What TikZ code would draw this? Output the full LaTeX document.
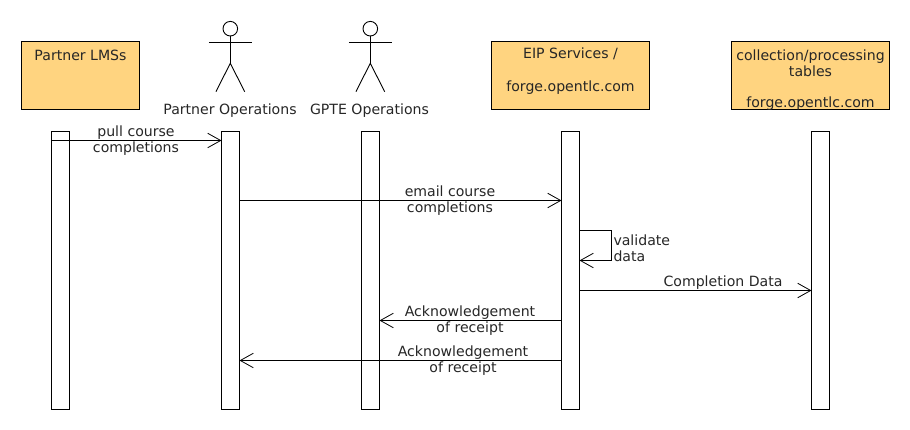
\documentclass[tikz,border=0pt]{standalone}
\usepackage{fontspec}
\setmainfont{DejaVu Sans}
\usetikzlibrary{arrows.meta}
\tikzset{
  x=1pt,y=-1pt,
  every node/.style={font=\fontsize{14.1}{16}\selectfont,inner sep=0pt,outer sep=0pt,text=black!85},
  part/.style={draw=black,line width=1pt,fill=boxfill,anchor=north west,minimum height=68pt,align=center},
  partw/.style={part,minimum width=118pt},
  partwide/.style={part,minimum width=158pt},
  bar/.style={draw=black,line width=1pt,fill=white,anchor=north west,minimum width=18pt,minimum height=278pt},
  msg/.style={draw=black,line width=0.8pt,-{Straight Barb[length=13pt,width=14.5pt,line width=0.8pt]}},
  stick/.style={draw=black,line width=0.9pt},
  lbl/.style={align=center,anchor=center}
}
\definecolor{boxfill}{HTML}{FFD480}
\newcommand{\actor}[2]{%
  \node[circle,draw=black,line width=0.9pt,minimum size=14.6pt] (#2h) at (#1,28.7) {};
  \coordinate (#2n) at (#1,63.3);
  \coordinate (#2a) at (#1-21.4,42.3);
  \coordinate (#2b) at (#1+21.4,42.3);
  \coordinate (#2l) at (#1-14.4,91.7);
  \coordinate (#2r) at (#1+14.4,91.7);
  \draw[stick] (#2h) -- (#2n);
  \draw[stick] (#2a) -- (#2b);
  \draw[stick] (#2l) -- (#2n) -- (#2r);
}
\begin{document}
\begin{tikzpicture}
\useasboundingbox (0,0) rectangle (910,430);
\node[partw] (lms) at (21.5,41.5) {};
\node[anchor=center] (lmst) at (80.5,55) {Partner LMSs};
\node[partwide] (eip) at (491.5,41.5) {};
\node[lbl] (eipt) at (570.5,53.5) {EIP Services /};
\node[lbl] (eipf) at (570.5,87.5) {forge.opentlc.com};
\node[partwide] (tab) at (731.5,41.5) {};
\node[lbl] (tabt) at (810.5,63) {collection/processing\\tables};
\node[lbl] (tabf) at (810.5,103.5) {forge.opentlc.com};
\actor{230.3}{pa}
\actor{370.3}{ga}
\node[anchor=center] (pal) at (230,110.5) {Partner Operations};
\node[anchor=center] (gal) at (369.5,110.5) {GPTE Operations};
\node[bar] (b1) at (51.5,131.5) {};
\node[bar] (b2) at (221.5,131.5) {};
\node[bar] (b3) at (361.5,131.5) {};
\node[bar] (b4) at (561.5,131.5) {};
\node[bar] (b5) at (811.5,131.5) {};
\draw[msg] (b1.west |- 0,140.5) -- (b2.west |- 0,140.5);
\draw[msg] (b2.east |- 0,200.5) -- (b4.west |- 0,200.5);
\draw[msg] (b4.east |- 0,230.5) -- (611,230.5) -- (611,260.5) -- (b4.east |- 0,260.5);
\draw[msg] (b4.east |- 0,290.5) -- (b5.west |- 0,290.5);
\draw[msg] (b4.west |- 0,320.5) -- (b3.east |- 0,320.5);
\draw[msg] (b4.west |- 0,360.5) -- (b2.east |- 0,360.5);
\node[lbl] (m1) at (136,140.5) {pull course\\completions};
\node[lbl] (m2) at (450,200.5) {email course\\completions};
\node[lbl,align=left,anchor=west] (m3) at (613.5,248) {validate\\data};
\node[lbl] (m4) at (723,283) {Completion Data};
\node[lbl] (m5) at (470,320.5) {Acknowledgement\\of receipt};
\node[lbl] (m6) at (463,360.5) {Acknowledgement\\of receipt};
\end{tikzpicture}
\end{document}
